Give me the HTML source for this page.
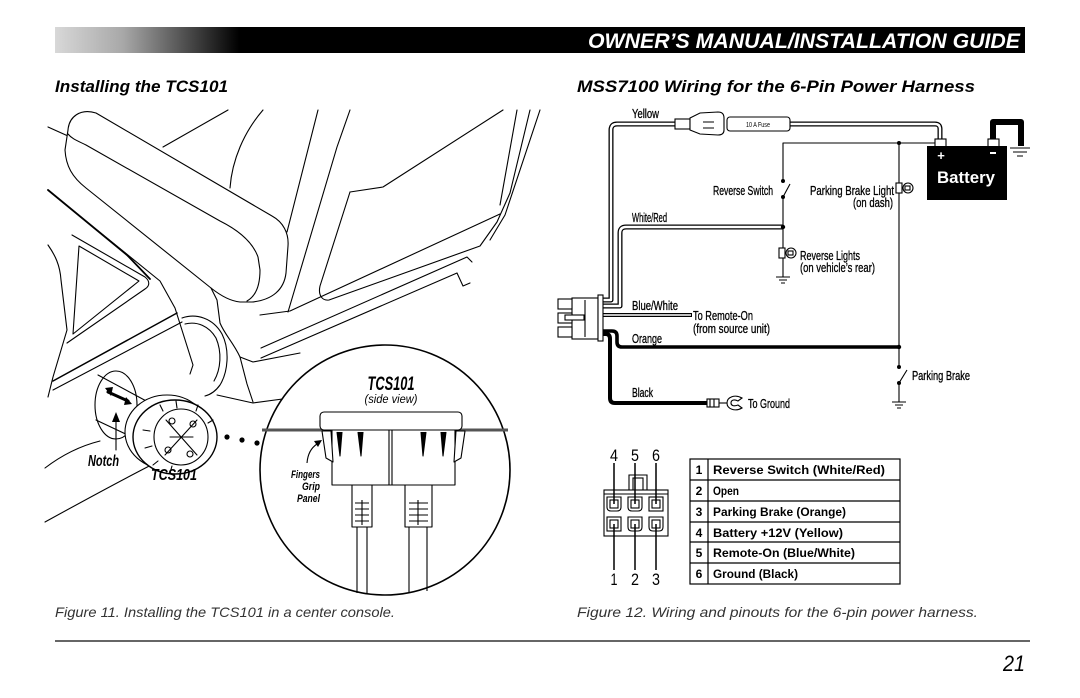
<!DOCTYPE html>
<html><head><meta charset="utf-8"><style>html,body{margin:0;padding:0;background:#fff}svg{display:block}</style></head>
<body>
<svg width="1080" height="698" viewBox="0 0 1080 698" xmlns="http://www.w3.org/2000/svg" font-family="'Liberation Sans', sans-serif">
<defs>
<linearGradient id="hdr" x1="55" y1="0" x2="1025" y2="0" gradientUnits="userSpaceOnUse">
<stop offset="0" stop-color="#d8d8d8"/><stop offset="0.07" stop-color="#a8a8a8"/><stop offset="0.13" stop-color="#555"/><stop offset="0.19" stop-color="#000"/><stop offset="1" stop-color="#000"/>
</linearGradient>
</defs>
<rect width="1080" height="698" fill="#fff"/>
<!-- header -->
<rect x="55" y="27" width="970" height="26" fill="url(#hdr)"/>
<text x="1020" y="48" text-anchor="end" font-size="21" font-weight="bold" font-style="italic" fill="#fff" textLength="432" lengthAdjust="spacingAndGlyphs">OWNER’S MANUAL/INSTALLATION GUIDE</text>
<!-- headings -->
<text x="55" y="92" font-size="17" font-weight="bold" font-style="italic" textLength="173" lengthAdjust="spacingAndGlyphs">Installing the TCS101</text>
<text x="577" y="92" font-size="17" font-weight="bold" font-style="italic" textLength="398" lengthAdjust="spacingAndGlyphs">MSS7100 Wiring for the 6-Pin Power Harness</text>
<!-- captions -->
<text x="55" y="617" font-size="14" font-style="italic" fill="#333" textLength="340" lengthAdjust="spacingAndGlyphs">Figure 11. Installing the TCS101 in a center console.</text>
<text x="577" y="617" font-size="14" font-style="italic" fill="#333" textLength="401" lengthAdjust="spacingAndGlyphs">Figure 12. Wiring and pinouts for the 6-pin power harness.</text>
<line x1="55" y1="641" x2="1030" y2="641" stroke="#333" stroke-width="1.6"/>
<text x="1025" y="671" text-anchor="end" font-size="22" font-style="italic" textLength="22" lengthAdjust="spacingAndGlyphs">21</text>

<!-- LEFT ILLUSTRATION -->
<g stroke="#000" stroke-width="1.1" fill="none" stroke-linejoin="round" stroke-linecap="round">
<path d="M163,147 L228,110"/>
<path d="M48,127 L68,136"/>
<path d="M230,188 C232,160 244,132 263,110"/>
<path d="M287,232 L318,110"/>
<path d="M288,312 L337,147 L350,110"/>
<path d="M350,192 L383,187 L503,110"/>
<path d="M350,192 L320,286 C318,295 322,301 329,300 L480,246 L497,222 L510,193 L530,110"/>
<path d="M517,110 L500,205"/>
<path d="M540,110 L505,215 L490,240"/>
<path d="M260,315 L290,311 L500,214"/>
<path d="M261,348 L467,257 L472,262"/>
<path d="M261,358 L457,273 L463,286 L470,283"/>
<!-- armrest -->
<path d="M68,130 C69,117 80,108 96,113 L272,216 C283,222 289,233 288,246 L286,273 C284,290 272,300 252,302 L240,302 C230,301 221,296 211,288 L86,188 C72,177 66,166 65,150 Z" fill="#fff"/>
<path d="M68,134 C72,139 78,141 86,145 L220,221 C240,231 253,243 258,257 L260,270 C260,286 256,296 247,301"/>
<!-- seat base -->
<path d="M211,288 L217,300 L220,323 C225,335 233,342 240,357 L253,362 L300,353"/>
<path d="M240,357 L247,384 L253,402"/>
<path d="M217,395 L253,403 L290,398"/>
<path d="M182,318 C196,313 213,318 222,334 C230,350 228,372 220,385 C215,392 209,395 205,396"/>
<path d="M185,324 C197,321 209,326 216,338 C222,352 221,369 214,381"/>
<!-- console -->
<path d="M48,245 C55,255 60,265 61,280 L67,330 L53,377 L48,397"/>
<path d="M72,235 L145,277 C150,281 150,286 145,289 L67,343"/>
<path d="M79,246 L139,281 L73,334 Z"/>
<path d="M48,190 L127,255 L150,279" stroke-width="1.8"/>
<path d="M97,230 L160,281 L175,308 L193,365 L190,374"/>
<path d="M53,381 L177,313" stroke-width="1.5"/>
<path d="M53,390 L182,322"/>
<path d="M45,468 C62,455 80,446 100,441"/>
<path d="M45,522 C85,500 125,478 165,458"/>
<!-- hole & shaft -->
<ellipse cx="116" cy="405" rx="21" ry="34" fill="#fff"/>
<path d="M98,375 L150,403"/>
<path d="M96,420 L134,438"/>
<path d="M108,392 L128,401" stroke-width="3"/>
<!-- knob -->
<ellipse cx="167" cy="432" rx="42" ry="37" fill="#fff"/>
<ellipse cx="175" cy="437" rx="42" ry="37" fill="#fff" stroke-width="1.4"/>
<ellipse cx="181" cy="437" rx="27" ry="28"/>
<path d="M143,430 L150,431 M145,448 L152,446 M153,465 L158,461 M170,473 L172,466 M160,405 L163,411 M176,401 L177,408 M198,405 L196,411 M213,420 L208,423"/>
<path d="M166,420 L197,455 M197,420 L165,455 M170,437 L193,437"/>
<circle cx="172" cy="421" r="3"/><circle cx="193" cy="424" r="3"/><circle cx="190" cy="454" r="3"/><circle cx="168" cy="450" r="3"/>
<path d="M116,450 L116,420"/>
</g>
<polygon points="105,388 113,387 111,396" fill="#000"/>
<polygon points="132,404 124,405 126,397" fill="#000"/>
<polygon points="112,422 116,412 120,422" fill="#000"/>
<text x="88" y="466" font-size="16" font-weight="bold" font-style="italic" textLength="31" lengthAdjust="spacingAndGlyphs">Notch</text>
<text x="151" y="480" font-size="16" font-weight="bold" font-style="italic" textLength="46" lengthAdjust="spacingAndGlyphs">TCS101</text>
<circle cx="227" cy="437" r="2.6"/><circle cx="242" cy="440" r="2.6"/><circle cx="257" cy="443" r="2.6"/>

<!-- inset circle -->
<circle cx="385" cy="470" r="125" fill="#fff" stroke="#000" stroke-width="1.6"/>
<g stroke="#000" stroke-width="1.1" fill="none" stroke-linejoin="round">
<line x1="262" y1="430" x2="508" y2="430" stroke="#555" stroke-width="3"/>
<rect x="320" y="412" width="142" height="18" rx="4" fill="#fff"/>
<path d="M332,430 L332,485 L455,485 L455,430 Z" fill="#fff"/>
<path d="M389,430 L389,485 M392,430 L392,485"/>
<path d="M322,431 L331,431 L333,462 L326,458 Z" fill="#fff"/>
<path d="M465,431 L456,431 L454,462 L461,458 Z" fill="#fff"/>
<path d="M337,432 L340,456 L342,432 M358,432 L361,456 L363,432 M421,432 L423,456 L426,432 M441,432 L443,456 L446,432" fill="#000"/>
<rect x="352" y="485" width="20" height="42" fill="#fff"/>
<rect x="405" y="485" width="27" height="42" fill="#fff"/>
<path d="M355,503 L369,503 M355,509 L369,509 M355,515 L369,515 M355,521 L369,521 M362,500 L362,525"/>
<path d="M409,503 L428,503 M409,509 L428,509 M409,515 L428,515 M409,521 L428,521 M418,500 L418,525"/>
<path d="M357,527 L357,593 M367,527 L367,593 M409,527 L409,593 M427,527 L427,591"/>
<path d="M307,463 Q308,450 317,444"/>
</g>
<polygon points="314,441 322,440 318,447" fill="#000"/>
<text x="391" y="390" text-anchor="middle" font-size="19" font-weight="bold" font-style="italic" textLength="47" lengthAdjust="spacingAndGlyphs">TCS101</text>
<text x="391" y="403" text-anchor="middle" font-size="12" font-style="italic" textLength="53" lengthAdjust="spacingAndGlyphs">(side view)</text>
<text x="320" y="478" text-anchor="end" font-size="11" font-weight="bold" font-style="italic" textLength="29" lengthAdjust="spacingAndGlyphs">Fingers</text>
<text x="320" y="490" text-anchor="end" font-size="11" font-weight="bold" font-style="italic" textLength="18" lengthAdjust="spacingAndGlyphs">Grip</text>
<text x="320" y="502" text-anchor="end" font-size="11" font-weight="bold" font-style="italic" textLength="23" lengthAdjust="spacingAndGlyphs">Panel</text>

<!-- RIGHT WIRING DIAGRAM -->
<g fill="none" stroke-linejoin="round">
<path d="M602,300 L611,300 L611,130 Q611,124 617,124 L676,124" stroke="#000" stroke-width="5"/>
<path d="M602,300 L611,300 L611,130 Q611,124 617,124 L676,124" stroke="#fff" stroke-width="2.4"/>
<path d="M602,306 L620,306 L620,233 Q620,227 626,227 L783,227" stroke="#000" stroke-width="5"/>
<path d="M602,306 L620,306 L620,233 Q620,227 626,227 L783,227" stroke="#fff" stroke-width="2.4"/>
<path d="M790,124 L935,124 Q940,124 940,129 L940,140" stroke="#000" stroke-width="5"/>
<path d="M790,124 L935,124 Q940,124 940,129 L940,140" stroke="#fff" stroke-width="2.4"/>
<path d="M602,315 L692,315" stroke="#000" stroke-width="4"/>
<path d="M602,315 L691,315" stroke="#fff" stroke-width="1.6"/>
<path d="M602,331 L612,331 Q617,331 617,336 L617,342 Q617,347 622,347 L899,347" stroke="#000" stroke-width="3.6"/>
<path d="M602,334 L606,334 Q610,334 610,339 L610,398 Q610,403 615,403 L708,403" stroke="#000" stroke-width="4"/>
<path d="M993,141 L993,122 L1021,122 L1021,146" stroke="#000" stroke-width="6"/>
<g stroke="#000" stroke-width="1.1">
<path d="M783,181 L783,143 L937,143"/>
<path d="M899,143 L899,367"/>
<path d="M783,197 L790,184"/>
<path d="M783,197 L783,248 M783,258 L783,277"/>
<path d="M776,277 L790,277 M779,280 L787,280 M781,283 L785,283"/>
<path d="M899,383 L907,370 M899,383 L899,402"/>
<path d="M892,402 L906,402 M895,405 L903,405 M897,408 L901,408"/>
<path d="M1010,148 L1030,148 M1013,152 L1027,152 M1017,156 L1023,156"/>
</g>
</g>
<g fill="#000">
<circle cx="899" cy="143" r="2"/><circle cx="783" cy="181" r="2"/><circle cx="783" cy="197" r="2"/><circle cx="783" cy="227" r="2.2"/><circle cx="899" cy="347" r="2.2"/><circle cx="899" cy="367" r="2"/><circle cx="899" cy="383" r="2"/>
</g>
<g stroke="#000" stroke-width="1.1" fill="#fff">
<rect x="675" y="119" width="15" height="10"/>
<path d="M690,118 L700,113 L718,112 Q724,112 724,118 L724,130 Q724,135 718,135 L700,134 L690,130 Z"/>
<path d="M703,122 L714,122 M703,128 L714,128" fill="none"/>
<rect x="727" y="117" width="63" height="14" rx="3"/>
<rect x="779" y="248" width="6" height="10"/><circle cx="791" cy="253" r="5"/><rect x="788" y="251" width="5" height="4" fill="none"/>
<rect x="896" y="183" width="6" height="10"/><circle cx="908" cy="188" r="5"/><rect x="905" y="186" width="5" height="4" fill="none"/>
<rect x="572" y="298" width="26" height="41"/>
<rect x="598" y="295" width="5" height="46"/>
<rect x="558" y="299" width="14" height="10"/><rect x="558" y="313" width="14" height="10"/><rect x="558" y="327" width="14" height="10"/>
<rect x="565" y="315" width="19" height="5"/>
<path d="M585,300 L585,337" fill="none"/>
<rect x="707" y="399" width="12" height="8"/>
<path d="M710,399 L710,407 M714,399 L714,407" fill="none"/>
<path d="M719,403 L727,403" fill="none"/>
<path d="M742,398 C735,394 727,397 727,403 C727,409 735,412 742,408 L738,405 C733,407 731,405 731,403 C731,400 734,399 738,401 Z"/>
<rect x="935" y="139" width="11" height="8"/>
<rect x="988" y="139" width="11" height="8"/>
</g>
<rect x="927" y="146" width="80" height="54" fill="#000"/>
<text x="941" y="160" text-anchor="middle" font-size="13" font-weight="bold" fill="#fff">+</text>
<rect x="990" y="152" width="6" height="2" fill="#fff"/>
<text x="966" y="183" text-anchor="middle" font-size="17" font-weight="bold" fill="#fff" textLength="58" lengthAdjust="spacingAndGlyphs">Battery</text>
<text x="758" y="127" text-anchor="middle" font-size="7" textLength="24" lengthAdjust="spacingAndGlyphs">10 A Fuse</text>
<g font-size="13" stroke="#000" stroke-width="0.3">
<text x="632" y="118" textLength="27" lengthAdjust="spacingAndGlyphs">Yellow</text>
<text x="713" y="195" textLength="60" lengthAdjust="spacingAndGlyphs">Reverse Switch</text>
<text x="810" y="195" textLength="84" lengthAdjust="spacingAndGlyphs">Parking Brake Light</text>
<text x="853" y="207" textLength="40" lengthAdjust="spacingAndGlyphs">(on dash)</text>
<text x="632" y="222" textLength="35" lengthAdjust="spacingAndGlyphs">White/Red</text>
<text x="800" y="260" textLength="60" lengthAdjust="spacingAndGlyphs">Reverse Lights</text>
<text x="800" y="272" textLength="75" lengthAdjust="spacingAndGlyphs">(on vehicle’s rear)</text>
<text x="632" y="310" textLength="46" lengthAdjust="spacingAndGlyphs">Blue/White</text>
<text x="693" y="320" textLength="60" lengthAdjust="spacingAndGlyphs">To Remote-On</text>
<text x="693" y="333" textLength="77" lengthAdjust="spacingAndGlyphs">(from source unit)</text>
<text x="632" y="343" textLength="30" lengthAdjust="spacingAndGlyphs">Orange</text>
<text x="632" y="397" textLength="21" lengthAdjust="spacingAndGlyphs">Black</text>
<text x="748" y="408" textLength="42" lengthAdjust="spacingAndGlyphs">To Ground</text>
<text x="912" y="380" textLength="58" lengthAdjust="spacingAndGlyphs">Parking Brake</text>
</g>

<g font-size="17">
<text x="614" y="461" text-anchor="middle" textLength="8" lengthAdjust="spacingAndGlyphs">4</text>
<text x="635" y="461" text-anchor="middle" textLength="8" lengthAdjust="spacingAndGlyphs">5</text>
<text x="656" y="461" text-anchor="middle" textLength="8" lengthAdjust="spacingAndGlyphs">6</text>
<text x="614" y="585" text-anchor="middle" textLength="7" lengthAdjust="spacingAndGlyphs">1</text>
<text x="635" y="585" text-anchor="middle" textLength="8" lengthAdjust="spacingAndGlyphs">2</text>
<text x="656" y="585" text-anchor="middle" textLength="8" lengthAdjust="spacingAndGlyphs">3</text>
</g>
<g stroke="#000" stroke-width="1.1" fill="#fff">
<path d="M629,493 L629,475 L647,475 L647,493" />
<rect x="633" y="478" width="10" height="15"/>
<rect x="604" y="490" width="64" height="46"/>
<path d="M604,494 L668,494" fill="none"/>
<path d="M607,497 L621,497 L621,507 Q621,511 617,511 L611,511 Q607,511 607,507 Z"/>
<path d="M628,497 L642,497 L642,507 Q642,511 638,511 L632,511 Q628,511 628,507 Z"/>
<rect x="649" y="497" width="14" height="14"/>
<rect x="607" y="517" width="14" height="14"/>
<path d="M628,517 L642,517 L642,527 Q642,531 638,531 L632,531 Q628,531 628,527 Z"/>
<path d="M649,517 L663,517 L663,527 Q663,531 659,531 L653,531 Q649,531 649,527 Z"/>
<rect x="610" y="500" width="8" height="8"/><rect x="631" y="500" width="8" height="8"/><rect x="652" y="500" width="8" height="8"/>
<rect x="610" y="520" width="8" height="8"/><rect x="631" y="520" width="8" height="8"/><rect x="652" y="520" width="8" height="8"/>
</g>
<g stroke="#000" stroke-width="1.5">
<path d="M614,463 L614,504 M635,463 L635,504 M656,463 L656,504"/>
<path d="M614,524 L614,570 M635,524 L635,570 M656,524 L656,570"/>
</g>

<g stroke="#000" stroke-width="1.2" fill="none">
<rect x="690" y="459" width="210" height="125"/>
<path d="M708,459 L708,584"/>
<path d="M690,480 L900,480 M690,501 L900,501 M690,522 L900,522 M690,542 L900,542 M690,563 L900,563"/>
</g>
<g font-size="12" font-weight="bold">
<text x="699" y="474" text-anchor="middle">1</text>
<text x="699" y="495" text-anchor="middle">2</text>
<text x="699" y="516" text-anchor="middle">3</text>
<text x="699" y="537" text-anchor="middle">4</text>
<text x="699" y="557" text-anchor="middle">5</text>
<text x="699" y="578" text-anchor="middle">6</text>
<text x="713" y="474" textLength="172" lengthAdjust="spacingAndGlyphs">Reverse Switch (White/Red)</text>
<text x="713" y="495" textLength="26" lengthAdjust="spacingAndGlyphs">Open</text>
<text x="713" y="516" textLength="133" lengthAdjust="spacingAndGlyphs">Parking Brake (Orange)</text>
<text x="713" y="537" textLength="130" lengthAdjust="spacingAndGlyphs">Battery +12V (Yellow)</text>
<text x="713" y="557" textLength="142" lengthAdjust="spacingAndGlyphs">Remote-On (Blue/White)</text>
<text x="713" y="578" textLength="85" lengthAdjust="spacingAndGlyphs">Ground (Black)</text>
</g>
</svg>
</body></html>
